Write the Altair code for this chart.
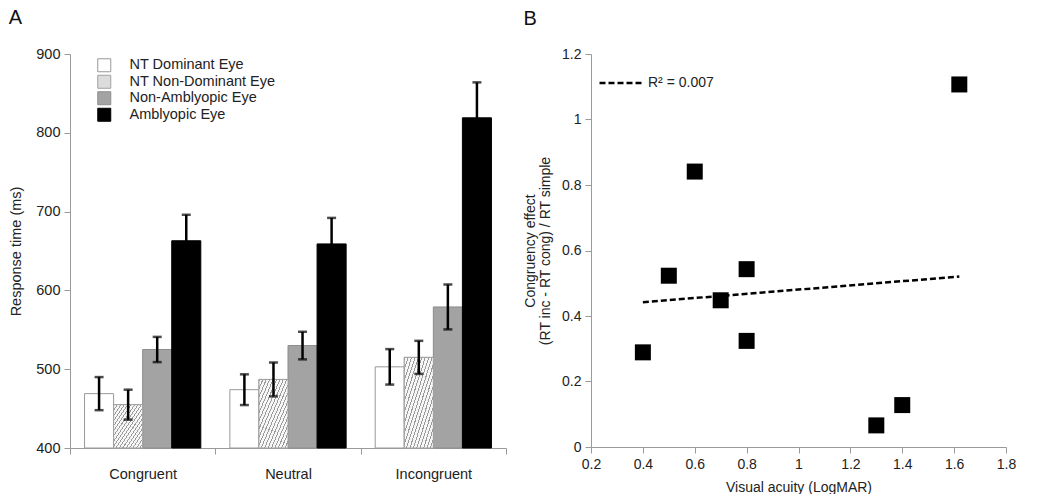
import altair as alt
import pandas as pd

# ---------------- Panel A data ----------------
conditions = ["Congruent", "Neutral", "Incongruent"]
series = ["NT Dominant Eye", "NT Non-Dominant Eye", "Non-Amblyopic Eye", "Amblyopic Eye"]
means = {
    "NT Dominant Eye": [469, 474, 503],
    "NT Non-Dominant Eye": [455, 487, 515],
    "Non-Amblyopic Eye": [525, 530, 579],
    "Amblyopic Eye": [663, 659, 819],
}
errors = {
    "NT Dominant Eye": [21, 19.5, 22.5],
    "NT Non-Dominant Eye": [19, 21.5, 21],
    "Non-Amblyopic Eye": [16, 17.5, 28.5],
    "Amblyopic Eye": [33, 33, 45],
}

# ---------------- Panel B data ----------------
acuity = [0.4, 0.5, 0.6, 0.7, 0.8, 0.8, 1.3, 1.4, 1.62]
congruency = [0.289, 0.523, 0.841, 0.448, 0.543, 0.324, 0.066, 0.128, 1.107]

rows = []
for s in series:
    for i, c in enumerate(conditions):
        m = means[s][i]
        e = errors[s][i]
        rows.append({"condition": c, "series": s, "mean": m, "lo": m - e, "hi": m + e})
dfA = pd.DataFrame(rows)
dfB = pd.DataFrame({"acuity": acuity, "congruency": congruency})

FONT = "Liberation Sans"
fills = ["#ffffff", "#dcdcdc", "#a3a3a3", "#000000"]
strokes = ["#999999", "#a0a0a0", "#8c8c8c", "#000000"]

x_enc = alt.X("condition:N", sort=conditions, scale=alt.Scale(paddingInner=0, paddingOuter=0),
              axis=alt.Axis(title=None, labelAngle=0, tickBand="extent", labelFontSize=14.5,
                            labelPadding=13, tickSize=6, labelColor="#222"))
xo_enc = alt.XOffset("series:N", sort=series,
                     scale=alt.Scale(domain=series, paddingInner=0, paddingOuter=0.5))
y_scale = alt.Scale(domain=[400, 900], zero=False, nice=False)
y_enc = alt.Y("mean:Q", scale=y_scale,
              axis=alt.Axis(title="Response time (ms)", values=[400, 500, 600, 700, 800, 900],
                            labelFontSize=14.5, titleFontSize=14.5, titleFontWeight="normal",
                            titlePadding=12, tickSize=6, labelPadding=4, labelColor="#222",
                            labelFlush=False))

bars = alt.Chart(dfA).mark_bar(strokeWidth=1).encode(
    x=x_enc,
    xOffset=xo_enc,
    y=y_enc,
    y2=alt.datum(400),
    fill=alt.Fill("series:N", sort=series,
                  scale=alt.Scale(domain=series, range=fills),
                  legend=alt.Legend(title=None, orient="none", legendX=27, legendY=4,
                                    symbolType="square", symbolSize=169, symbolStrokeColor="#888",
                                    symbolStrokeWidth=1, labelFontSize=14.5, labelOffset=18,
                                    rowPadding=-1.5, labelColor="#222", labelFont=FONT)),
    stroke=alt.Stroke("series:N", sort=series,
                      scale=alt.Scale(domain=series, range=strokes), legend=None),
)

n = 17
stops = []
for k in range(n):
    a = k / n
    b = (k + 0.3) / n
    c2 = (k + 1) / n
    stops += [alt.GradientStop(offset=a, color="#9a9a9a"),
              alt.GradientStop(offset=b, color="#9a9a9a"),
              alt.GradientStop(offset=b, color="#f6f6f6"),
              alt.GradientStop(offset=c2, color="#f6f6f6")]
hatch = alt.LinearGradient(gradient="linear", stops=stops, x1=0, y1=0, x2=1, y2=1)

hatched = alt.Chart(dfA).transform_filter(
    alt.datum.series == "NT Non-Dominant Eye"
).mark_bar(fill=hatch, stroke="#a0a0a0", strokeWidth=1).encode(
    x=alt.X("condition:N", sort=conditions),
    xOffset=alt.XOffset("series:N", sort=series),
    y=alt.Y("mean:Q"),
    y2=alt.datum(400),
)

err_rule = alt.Chart(dfA).mark_rule(color="black", strokeWidth=2.5).encode(
    x=alt.X("condition:N", sort=conditions),
    xOffset=alt.XOffset("series:N", sort=series),
    y=alt.Y("lo:Q"),
    y2="hi:Q",
)
cap_lo = alt.Chart(dfA).mark_tick(color="black", thickness=2.5, size=9).encode(
    x=alt.X("condition:N", sort=conditions),
    xOffset=alt.XOffset("series:N", sort=series),
    y=alt.Y("lo:Q"),
)
cap_hi = alt.Chart(dfA).mark_tick(color="black", thickness=2.5, size=9).encode(
    x=alt.X("condition:N", sort=conditions),
    xOffset=alt.XOffset("series:N", sort=series),
    y=alt.Y("hi:Q"),
)

panelA = alt.layer(bars, hatched, err_rule, cap_lo, cap_hi).properties(
    width=436, height=394,
    title=alt.TitleParams("A", anchor="start", frame="bounds", fontSize=20, fontWeight="normal",
                          font=FONT, offset=18, color="#111"),
)

# ---------------- Panel B ----------------
xB = alt.X("acuity:Q", scale=alt.Scale(domain=[0.2, 1.8], nice=False),
           axis=alt.Axis(title="Visual acuity (LogMAR)", values=[0.2, 0.4, 0.6, 0.8, 1, 1.2, 1.4, 1.6, 1.8],
                         format="~g", labelFontSize=14, titleFontSize=14, titleFontWeight="normal",
                         titlePadding=9, tickSize=6, labelPadding=4, labelColor="#222",
                         labelFlush=False))
yB = alt.Y("congruency:Q", scale=alt.Scale(domain=[0, 1.2], nice=False),
           axis=alt.Axis(title=["Congruency effect", "(RT inc - RT cong) / RT simple"],
                         values=[0, 0.2, 0.4, 0.6, 0.8, 1, 1.2], format="~g",
                         labelFontSize=14, titleFontSize=14, titleFontWeight="normal",
                         titlePadding=9, titleLineHeight=15, tickSize=6, labelPadding=4,
                         labelColor="#222", labelFlush=False))

points = alt.Chart(dfB).mark_square(size=256, color="black", opacity=1).encode(x=xB, y=yB)

fit = alt.Chart(dfB).transform_regression(
    "acuity", "congruency"
).transform_calculate(
    fit="'R² = 0.007'"
).mark_line(color="black", strokeWidth=2.5).encode(
    x=alt.X("acuity:Q"),
    y=alt.Y("congruency:Q"),
    strokeDash=alt.StrokeDash("fit:N", scale=alt.Scale(domain=["R² = 0.007"], range=[[6, 3]]),
                              legend=alt.Legend(title=None, orient="none", legendX=7, legendY=6,
                                                symbolType="stroke", symbolSize=1849,
                                                symbolStrokeWidth=2.5, symbolStrokeColor="black",
                                                labelFontSize=14, labelOffset=4, labelColor="#222",
                                                labelFont=FONT)),
)

panelB = alt.layer(fit, points).properties(
    width=415, height=393,
    title=alt.TitleParams("B", anchor="start", frame="bounds", fontSize=20, fontWeight="normal",
                          font=FONT, offset=18, color="#111"),
)

chart = alt.hconcat(panelA, panelB, spacing=16).resolve_legend(
    fill="independent", stroke="independent", strokeDash="independent"
).configure(
    font=FONT,
    padding=0,
).configure_view(
    stroke=None,
).configure_axis(
    domainColor="#9a9a9a",
    tickColor="#9a9a9a",
    grid=False,
    labelFont=FONT,
    titleFont=FONT,
    titleColor="#222",
)

chart.save("out.html", embed_options={"renderer": "svg", "actions": False})
